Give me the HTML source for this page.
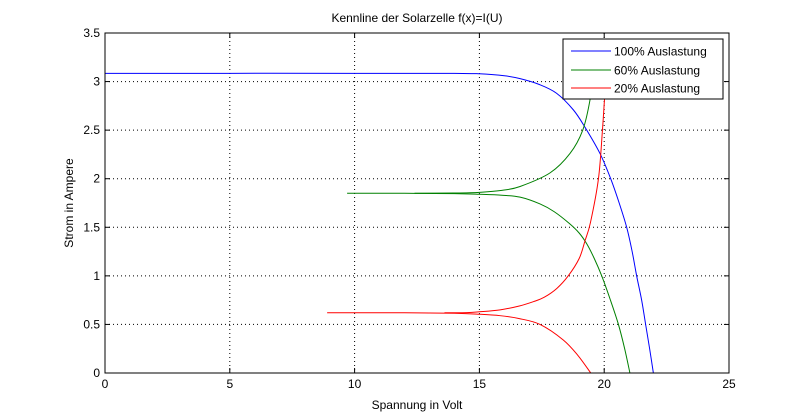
<!DOCTYPE html>
<html><head><meta charset="utf-8"><style>
body{margin:0;background:#fff;}
svg{display:block;font-family:"Liberation Sans",Arial,sans-serif;}
</style></head><body>
<svg id="chart" width="806" height="420">
<rect width="806" height="420" fill="#fff"/>
<g id="grid"></g>
<g id="series"></g>
<rect x="105" y="33" width="624" height="340" fill="none" stroke="#000" stroke-width="1"/>
<g id="ticks"></g>
<text x="417" y="22" font-size="12" text-anchor="middle">Kennline der Solarzelle f(x)=I(U)</text>
<text x="417" y="409" font-size="12" text-anchor="middle">Spannung in Volt</text>
<text x="0" y="0" font-size="12" text-anchor="middle" transform="translate(73,203) rotate(-90)">Strom in Ampere</text>
<g>
<rect x="563" y="39" width="160" height="60" fill="#fff" stroke="#000" stroke-width="1"/>
<line x1="571" y1="51" x2="611" y2="51" stroke="#0000ff"/>
<text x="614" y="55.5" font-size="12">100% Auslastung</text>
<line x1="571" y1="70" x2="611" y2="70" stroke="#008000"/>
<text x="614" y="74.5" font-size="12">60% Auslastung</text>
<line x1="571" y1="88" x2="611" y2="88" stroke="#ff0000"/>
<text x="614" y="92.5" font-size="12">20% Auslastung</text>
</g>
</svg>
<script>
const xTicks=[0,5,10,15,20,25];
const yTicks=[0,0.5,1,1.5,2,2.5,3,3.5];
const xTickLabels=["0","5","10","15","20","25"];
const yTickLabels=["0","0.5","1","1.5","2","2.5","3","3.5"];
const blueU=[0,5,10,14,15,16,16.63,17.4,18.09,18.76,19.23,19.83,20.26,20.6,20.9,21.12,21.3,21.5,21.66,21.82,21.97];
const blueI=[3.085,3.085,3.085,3.084,3.08,3.06,3.03,2.97,2.88,2.71,2.53,2.26,2.0,1.75,1.5,1.25,1.0,0.75,0.5,0.25,0];
const greenUpU=[12.4,14,15,15.9,16.63,17.83,18.63,19.14,19.43,19.55];
const greenUpI=[1.85,1.853,1.86,1.88,1.92,2.06,2.26,2.5,2.81,3.08];
const greenLowU=[9.7,12,14,15,15.9,16.63,17.43,18.0,18.6,19.0,19.3,19.6,19.9,20.25,20.57,20.82,21.03];
const greenLowI=[1.85,1.85,1.847,1.84,1.83,1.81,1.74,1.66,1.54,1.44,1.33,1.18,1.0,0.75,0.5,0.25,0];
const redUpU=[13.6,14.5,15,15.83,16.6,17.16,17.6,18.1,18.56,19.0,19.23,19.45,19.77,19.93,20.03,20.15];
const redUpI=[0.62,0.622,0.63,0.65,0.69,0.734,0.78,0.87,1.0,1.18,1.36,1.55,2.0,2.5,2.88,3.2];
const redLowU=[8.9,12,14,15,15.83,16.6,17.43,18.36,18.95,19.46];
const redLowI=[0.62,0.62,0.615,0.605,0.59,0.56,0.5,0.34,0.18,0];
const NS="http://www.w3.org/2000/svg";
const sx=u=>105+u*(624/25);
const sy=i=>373-i*(340/3.5);
const grid=document.getElementById('grid'),ticks=document.getElementById('ticks'),ser=document.getElementById('series');
function mk(tag,attrs,parent){const e=document.createElementNS(NS,tag);for(const k in attrs)e.setAttribute(k,attrs[k]);parent.appendChild(e);return e;}
xTicks.forEach((t,k)=>{const x=sx(t);
 if(k>0&&k<xTicks.length-1){const g=mk('line',{x1:x,y1:33,x2:x,y2:373,stroke:'#000','stroke-dasharray':'1,3'},grid);
 
 }
 const a=mk('line',{x1:x,y1:373,x2:x,y2:368,stroke:'#000'},ticks);
 
 
 mk('line',{x1:x,y1:33,x2:x,y2:38,stroke:'#000'},ticks);
 const l=mk('text',{x:x,y:388,'font-size':12,'text-anchor':'middle'},ticks);l.textContent=xTickLabels[k];
 
 
});
yTicks.forEach((t,k)=>{const y=sy(t);
 if(k>0&&k<yTicks.length-1){const g=mk('line',{x1:105,y1:y,x2:729,y2:y,stroke:'#000','stroke-dasharray':'1,3'},grid);
 
 }
 const a=mk('line',{x1:105,y1:y,x2:110,y2:y,stroke:'#000'},ticks);
 
 
 mk('line',{x1:729,y1:y,x2:724,y2:y,stroke:'#000'},ticks);
 const l=mk('text',{x:100,y:y+4,'font-size':12,'text-anchor':'end'},ticks);l.textContent=yTickLabels[k];
 
 
});
function path(U,I){const p=U.map((u,k)=>[sx(u),sy(I[k])]);let d='M'+p[0][0]+','+p[0][1];
 for(let k=0;k<p.length-1;k++){const p0=p[Math.max(k-1,0)],p1=p[k],p2=p[k+1],p3=p[Math.min(k+2,p.length-1)];
 d+=' C'+(p1[0]+(p2[0]-p0[0])/6)+','+(p1[1]+(p2[1]-p0[1])/6)+' '+(p2[0]-(p3[0]-p1[0])/6)+','+(p2[1]-(p3[1]-p1[1])/6)+' '+p2[0]+','+p2[1];}
 return d;}
[[blueU,blueI,'#0000ff','series-100'],[greenUpU,greenUpI,'#008000','series-60-upper'],[greenLowU,greenLowI,'#008000','series-60-lower'],[redUpU,redUpI,'#ff0000','series-20-upper'],[redLowU,redLowI,'#ff0000','series-20-lower']].forEach(s=>{
 const e=mk('path',{d:path(s[0],s[1]),fill:'none',stroke:s[2],'stroke-width':1},ser);
 
 
});
</script>
</body></html>
